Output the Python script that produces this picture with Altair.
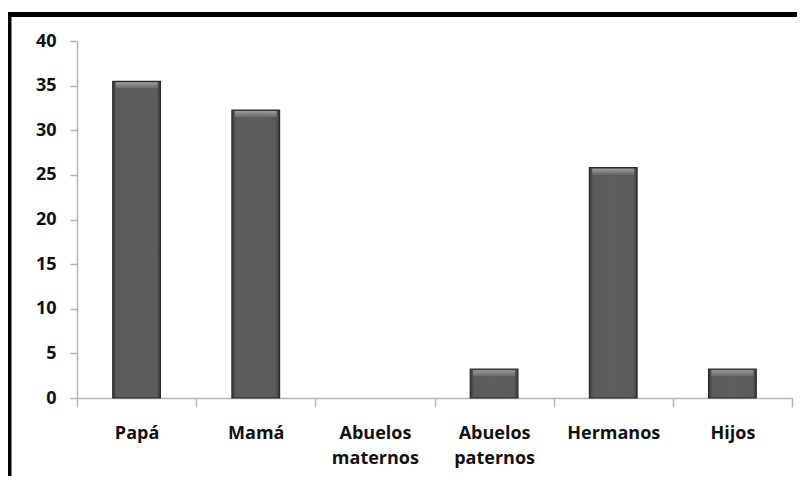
import altair as alt
import pandas as pd

categories = ["Papá", "Mamá", "Abuelos maternos", "Abuelos paternos", "Hermanos", "Hijos"]
values = [35.48, 32.26, 0.0, 3.23, 25.81, 3.23]
y_ticks = [0, 5, 10, 15, 20, 25, 30, 35, 40]

df = pd.DataFrame({"cat": categories, "val": values})

FONT = "Open Sans"

bar_fill = alt.LinearGradient(
    gradient="linear",
    x1=0, x2=1, y1=0, y2=0,
    stops=[
        alt.GradientStop(color="#3a3a3a", offset=0),
        alt.GradientStop(color="#5b5b5b", offset=0.08),
        alt.GradientStop(color="#5e5e5e", offset=0.5),
        alt.GradientStop(color="#5b5b5b", offset=0.92),
        alt.GradientStop(color="#3a3a3a", offset=1),
    ],
)

bevel_fill = alt.LinearGradient(
    gradient="linear",
    x1=0, x2=0, y1=0, y2=1,
    stops=[
        alt.GradientStop(color="#9a9a9a", offset=0),
        alt.GradientStop(color="#6a6a6a", offset=1),
    ],
)

x_enc = alt.X(
    "cat:N",
    sort=categories,
    scale=alt.Scale(paddingInner=0, paddingOuter=0),
    axis=alt.Axis(
        title=None,
        labelAngle=0,
        tickBand="extent",
        tickSize=9,
        labelPadding=17,
        labelLineHeight=25,
        labelExpr="split(datum.label, ' ')",
    ),
)
y_enc = alt.Y(
    "val:Q",
    scale=alt.Scale(domain=[0, 40], nice=False),
    axis=alt.Axis(title=None, values=y_ticks, tickSize=7, labelPadding=14, grid=False),
)
visible = alt.condition("datum.val > 0", alt.value(1), alt.value(0))

bars = alt.Chart(df).mark_bar(
    width=alt.RelativeBandSize(0.4),
    color=bar_fill,
    stroke="#2a2a2a",
    strokeWidth=1.2,
).encode(x=x_enc, y=y_enc, opacity=visible)

bevel = alt.Chart(df).mark_tick(
    size=42, thickness=6, color=bevel_fill, yOffset=4
).encode(x=x_enc, y=y_enc, opacity=visible)

frame_left = alt.Chart(pd.DataFrame({"a": [0]})).mark_rule(
    color="#000000", strokeWidth=5
).encode(x=alt.value(-68), y=alt.value(-29), y2=alt.value(435))

frame_top = alt.Chart(pd.DataFrame({"a": [0]})).mark_rule(
    color="#000000", strokeWidth=5
).encode(y=alt.value(-26.5), x=alt.value(-70.5), x2=alt.value(720))

chart = alt.layer(frame_left, frame_top, bars, bevel).properties(
    width=715,
    height=357,
    padding={"left": 69, "top": 33, "right": 5, "bottom": 78},
    autosize="none",
).configure_view(stroke=None).configure_axis(
    domainColor="#b5b5b5",
    domainWidth=1.5,
    tickColor="#b5b5b5",
    tickWidth=1.5,
    labelFont=FONT,
    labelFontSize=18,
    labelFontWeight="bold",
    labelColor="#111111",
)

chart.save("out.html", embed_options={"renderer": "svg", "actions": False})
